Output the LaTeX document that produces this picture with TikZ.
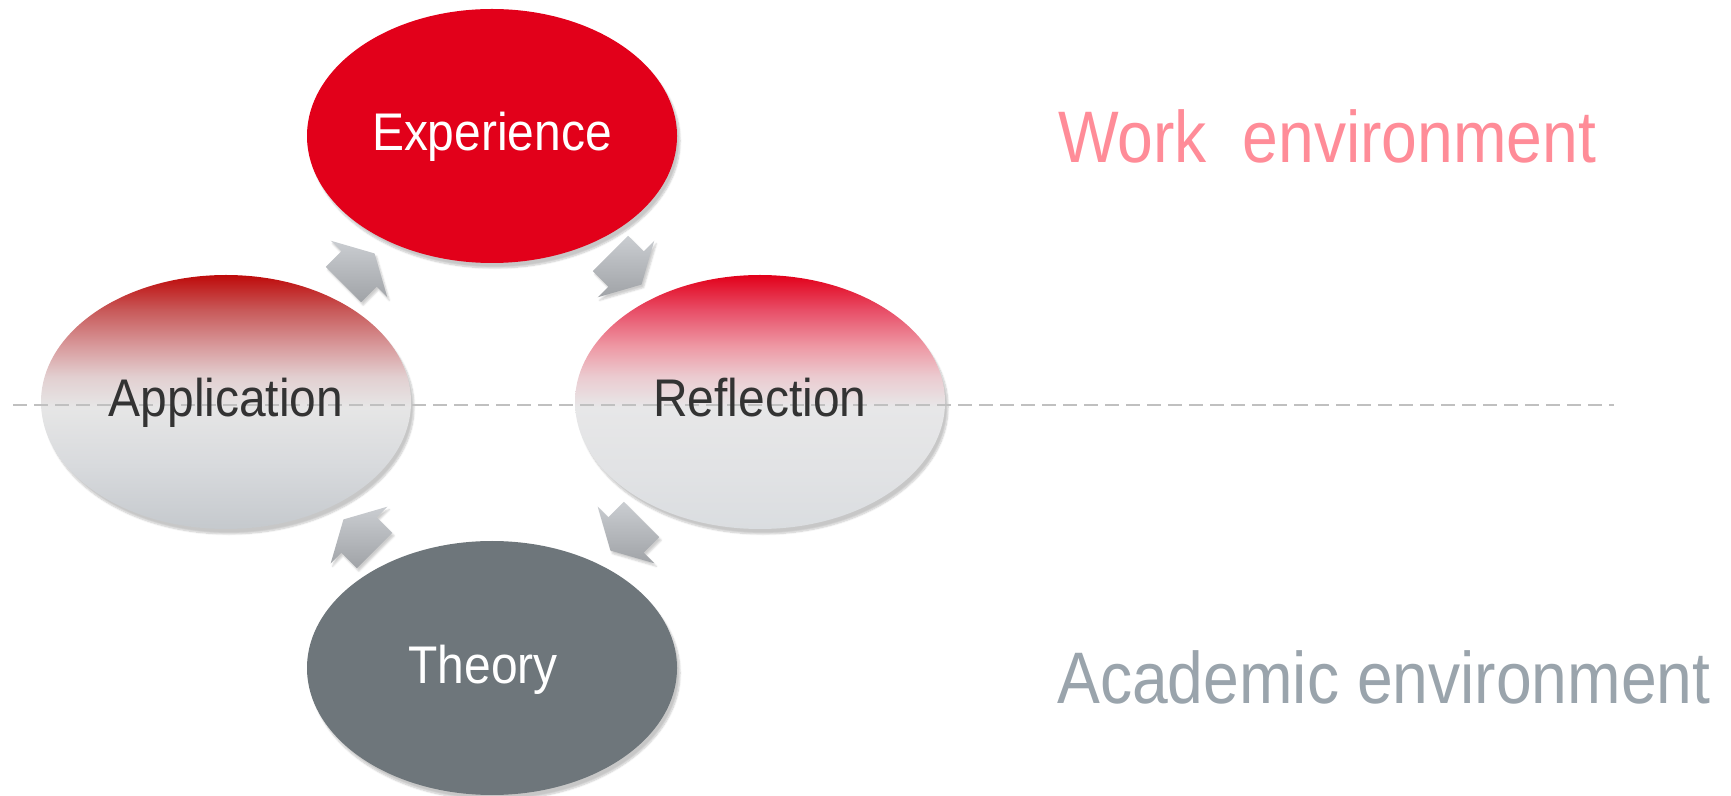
\documentclass[tikz,border=0pt]{standalone}
\usepackage{fontspec}
\newfontfamily\lsans[FakeStretch=0.88]{Liberation Sans}
\newfontfamily\lsanslab[FakeStretch=0.905]{Liberation Sans}
\usetikzlibrary{calc,shapes.geometric,shadows.blur}
\definecolor{expred}{HTML}{E2001A}
\definecolor{thgray}{HTML}{6E767B}
\definecolor{workpink}{HTML}{FF8C98}
\definecolor{acadgray}{HTML}{9AA4AC}
\definecolor{labdark}{HTML}{333333}
\definecolor{dashgray}{HTML}{C0C0C0}
\definecolor{arrtop}{HTML}{CACDD1}
\definecolor{arrbot}{HTML}{A0A3A7}
% Application shading colours
\definecolor{apA}{HTML}{C5C9CD}
\definecolor{apB}{HTML}{D8DADD}
\definecolor{apC}{HTML}{E6E6E6}
\definecolor{apD}{HTML}{E2CFD0}
\definecolor{apE}{HTML}{D89A9C}
\definecolor{apF}{HTML}{C85A5A}
\definecolor{apG}{HTML}{BE0A0A}
% Reflection shading colours
\definecolor{rfA}{HTML}{DADDE0}
\definecolor{rfB}{HTML}{E2E3E5}
\definecolor{rfC}{HTML}{E7E7E8}
\definecolor{rfD}{HTML}{EBCBD0}
\definecolor{rfE}{HTML}{EE98A4}
\definecolor{rfF}{HTML}{E84F68}
\definecolor{rfG}{HTML}{E2001A}
\pgfdeclareverticalshading{appshade}{100bp}{color(0bp)=(apA); color(25bp)=(apA); color(37.5bp)=(apB); color(49bp)=(apC); color(55bp)=(apD); color(61bp)=(apE); color(68bp)=(apF); color(75bp)=(apG); color(100bp)=(apG)}
\pgfdeclareverticalshading{refshade}{100bp}{color(0bp)=(rfA); color(25bp)=(rfA); color(37.5bp)=(rfB); color(49bp)=(rfC); color(55bp)=(rfD); color(61bp)=(rfE); color(68bp)=(rfF); color(75bp)=(rfG); color(100bp)=(rfG)}
\tikzset{
  phase/.style={ellipse, minimum width=370pt, minimum height=254pt, inner sep=0pt,
    blur shadow={shadow xshift=3pt, shadow yshift=-5pt, shadow blur steps=8, shadow opacity=22}},
  lab/.style={font=\lsanslab\fontsize{53}{60}\selectfont, inner sep=0pt, anchor=base},
  biglab/.style={font=\lsans\fontsize{73}{84}\selectfont, inner sep=0pt, anchor=base west},
  arrowst/.style={top color=arrtop, bottom color=arrbot, draw=none,
    blur shadow={shadow xshift=2pt, shadow yshift=-3pt, shadow blur steps=5, shadow opacity=20}},
  envline/.style={draw=dashgray, line width=1.3pt, dash pattern=on 14pt off 7pt}
}
\newcommand\cyclearrow[2]{%
  \path[arrowst, shift={#1}, rotate=#2]
    (-22,25) -- (0,25) -- (0,40) -- (22,0) -- (0,-40) -- (0,-25) -- (-22,-25) -- cycle;}
\begin{document}
\begin{tikzpicture}[x=1pt,y=1pt]
\useasboundingbox (0,0) rectangle (1731,795);
% ellipses
\node[phase, fill=expred] (exp) at (492,659) {};
\node[phase, shading=appshade] (app) at (226,393) {};
\node[phase, shading=refshade] (ref) at (760,393) {};
\node[phase, fill=thgray] (the) at (492,127) {};
% cycle arrows
\cyclearrow{($(app)!0.5!(exp)$)}{45}
\cyclearrow{($(exp)!0.5!(ref)$)}{-45}
\cyclearrow{($(ref)!0.5!(the)$)}{-135}
\cyclearrow{($(the)!0.5!(app)$)}{135}
% dashed boundary
\coordinate (dl) at (13,390);
\coordinate (dr) at (1614,390);
\draw[envline] (dl) -- (dr);
% labels
\node[lab, text=white] (expl) at ($(exp.center)+(0,-15)$) {Experience};
\node[lab, text=labdark] (appl) at ($(app.center)+(0,-15)$) {Application};
\node[lab, text=labdark] (refl) at ($(ref.center)+(0,-15)$) {Reflection};
\node[lab, text=white] (thel) at ($(the.center)+(-9,-16)$) {Theory};
\node[biglab, text=workpink] (work) at (1058,632) {Work~~environment};
\node[biglab, text=acadgray] (acad) at (1057,92) {Academic environment};
\end{tikzpicture}
\end{document}
